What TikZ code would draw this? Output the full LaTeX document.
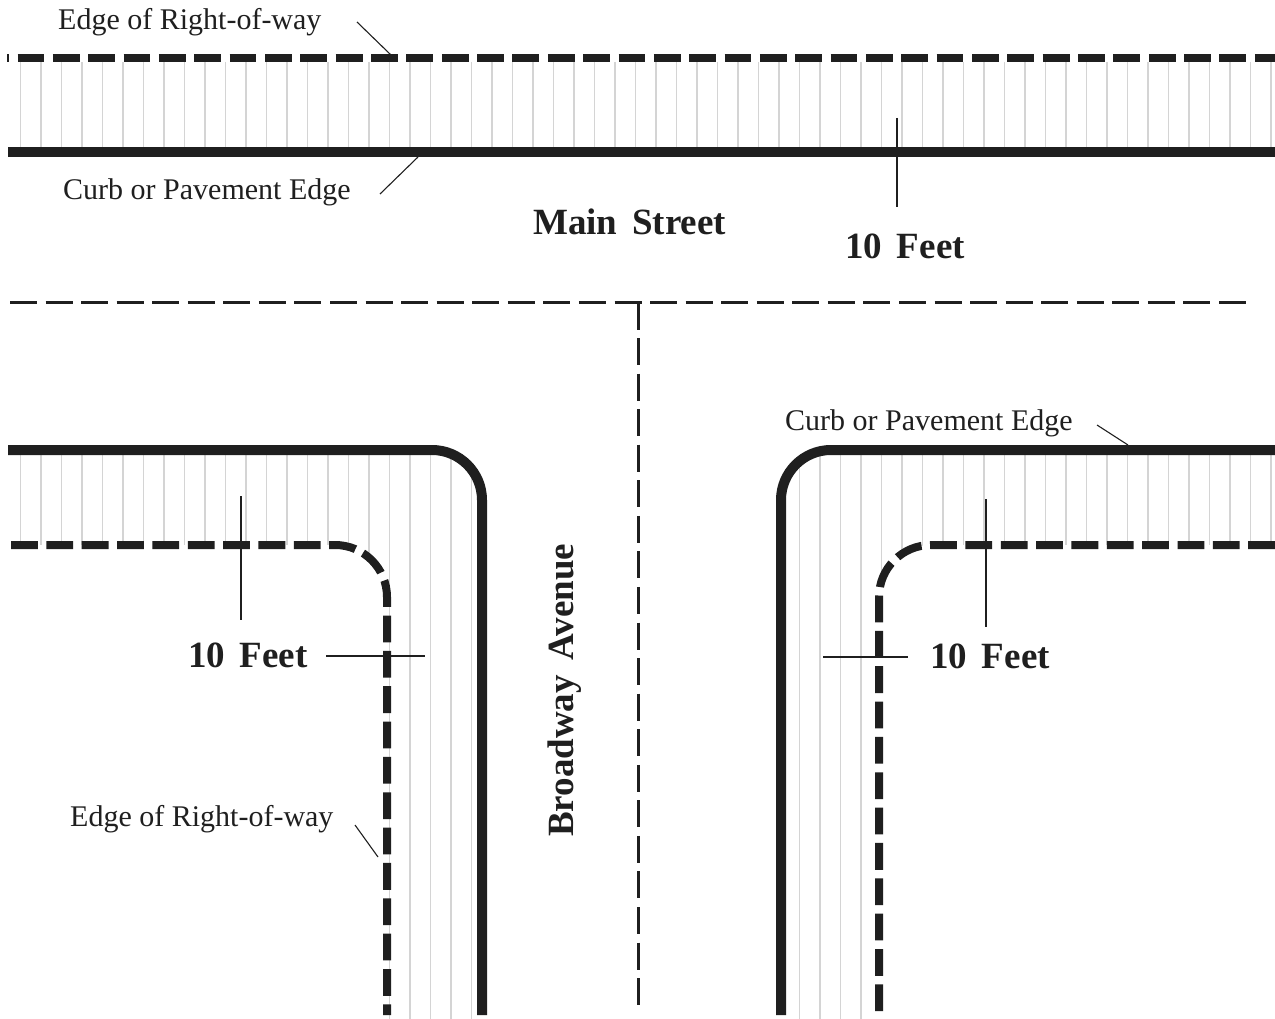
\documentclass[tikz,border=0pt]{standalone}
\usepackage{fontspec}
\setmainfont{Liberation Serif}
\usetikzlibrary{calc}
\tikzset{
	curb/.style={line width=10pt, color=black!88, rounded corners=50pt},
	rowline/.style={line width=8pt, color=black!88, dash pattern=on 26.8pt off 8.55pt, rounded corners=52pt},
	centerline/.style={line width=2.6pt, color=black!88, dash pattern=on 27pt off 8.56pt},
	leader/.style={line width=1.1pt, color=black!88},
	hatchline/.style={line width=1.6pt, color=black!17},
	lbl/.style={inner sep=0pt, anchor=base west, text=black!88, font=\fontsize{30}{36}\selectfont},
	streetname/.style={inner sep=0pt, anchor=base west, text=black!88, font=\fontsize{37}{44}\selectfont\bfseries, execute at begin node={\spaceskip=.4em\relax}}
}
\def\hatch(#1:#2)(#3:#4){\foreach \k in {#1,...,#2} \draw[hatchline] (20.5*\k,#3) -- (20.5*\k,#4);}

\begin{document}
\begin{tikzpicture}[x=1pt, y=-1pt]
		%%%%% START %%%%%
		\useasboundingbox (0,0) rectangle (1275,1019);
		
		% Main Street
		\hatch(1:62)(62:147)
		\draw[rowline, dash phase=24.8pt] (7,58) -- (1275,58);
		\draw[curb] (8,152) -- (1275,152);
		
		% left corner
		\begin{scope}
			\clip[rounded corners=50pt] (-100,450) -- (482,450) -- (482,1200) -- (-100,1200) -- cycle;
			\hatch(1:23)(450:1019)
			\fill[white, rounded corners=52pt] (-100,545) -- (387,545) -- (387,1200) -- (-100,1200) -- cycle;
		\end{scope}
		\draw[rowline] (11,545) -- (387,545) -- (387,1015);
		\draw[curb] (8,450) -- (482,450) -- (482,1015);
		
		% right corner
		\begin{scope}
			\clip[rounded corners=50pt] (1400,450) -- (781,450) -- (781,1200) -- (1400,1200) -- cycle;
			\hatch(39:62)(450:1019)
			\fill[white, rounded corners=52pt] (1400,545) -- (879,545) -- (879,1200) -- (1400,1200) -- cycle;
		\end{scope}
		\draw[rowline] (1275,545) -- (879,545) -- (879,1015);
		\draw[curb] (1275,450) -- (781,450) -- (781,1015);
		
		% centre lines
		\draw[centerline] (10,302.5) -- (1246,302.5);
		\draw[centerline] (638.5,302.5) -- (638.5,1005);
		
		% labels
		\node[lbl] (rowtop) at (58,30) {Edge of Right-of-way};
		\draw[leader] (357,22) -- (391,55);
		\node[lbl] (curbtop) at (63,200) {Curb or Pavement Edge};
		\draw[leader] (380,194) -- (418,157);
		\node[streetname] (mainst) at (533,235) {Main Street};
		\node[streetname] (feettop) at (845,259) {10 Feet};
		\draw[leader] (897,118) -- (897,207);
		
		\node[streetname] (feetleft) at (188,667) {10 Feet};
		\draw[leader] (326,656) -- (425,656);
		\draw[leader] (241,496) -- (241,620);
		\node[streetname] (feetright) at (930,668) {10 Feet};
		\draw[leader] (823,657) -- (908,657);
		\draw[leader] (986,499) -- (986,627);
		
		\node[lbl] (curbright) at (785,430) {Curb or Pavement Edge};
		\draw[leader] (1097,425) -- (1128,445);
		\node[lbl] (rowleft) at (70,826) {Edge of Right-of-way};
		\draw[leader] (355,825) -- (378,857);
		
		\node[streetname, rotate=90] (broadway) at (573,837) {Broadway Avenue};
		%%%%% END %%%%%
\end{tikzpicture}
\end{document}
